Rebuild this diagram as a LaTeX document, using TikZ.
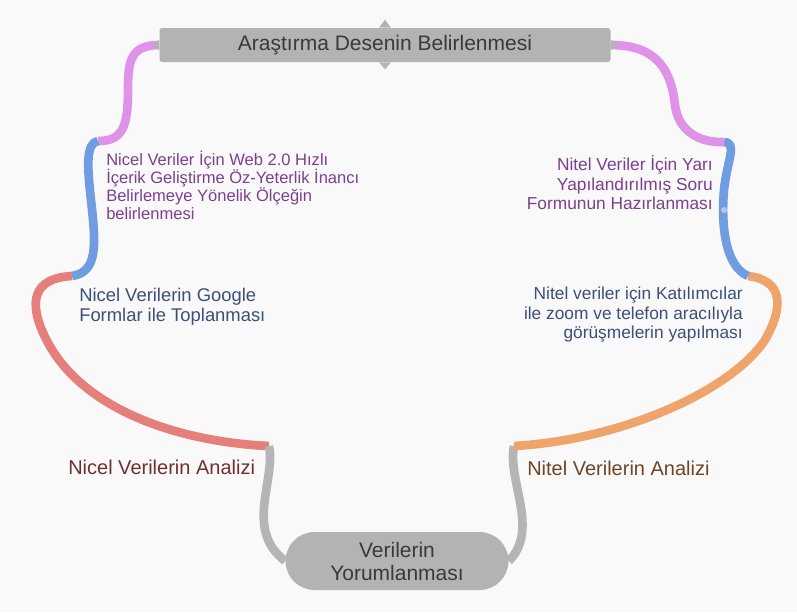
\documentclass[tikz,border=0pt]{standalone}
\usepackage{fontspec}
\setmainfont{Liberation Sans}
\usetikzlibrary{positioning}
\newcommand{\px}{0.75pt}
\definecolor{bgcol}{HTML}{F9F9F9}
\definecolor{boxgray}{HTML}{B3B3B3}
\definecolor{boxtext}{HTML}{3A3A3A}
\definecolor{rpink}{HTML}{DE93E8}
\definecolor{rblue}{HTML}{709CE2}
\definecolor{rred}{HTML}{E57F7B}
\definecolor{rorange}{HTML}{EFA46B}
\definecolor{rgray}{HTML}{B5B5B5}
\definecolor{tpurple}{HTML}{7E3F8F}
\definecolor{tblue}{HTML}{3C4F78}
\definecolor{tred}{HTML}{6E3030}
\definecolor{tbrown}{HTML}{6E4526}

\begin{document}
\begin{tikzpicture}[x=\px, y=-\px,
    box/.style={fill=boxgray, text=boxtext, inner sep=0pt, align=center, font=\fontsize{15.75}{17.25}\selectfont},
    lbl/.style={inner sep=0pt, font=\fontsize{13}{14.6}\selectfont},
    ribbon/.style={line width=6.5pt, line cap=butt}]
    \useasboundingbox (0,0) rectangle (797,612);
    \fill[bgcol] (0,0) rectangle (797,612);

    % Boxes
    \node[box, minimum width=451*\px, minimum height=34*\px, rounded corners=2pt] (desen) at (385,45) {Araştırma Desenin Belirlenmesi};
    \node[box, minimum width=223*\px, minimum height=58*\px, rounded corners=29*\px] (yorum) at (397,561) {Verilerin\\Yorumlanması};

    % Left side
    \node[lbl, anchor=west, align=left, text=tpurple, font=\fontsize{12.4}{13.5}\selectfont] (olcek) at (106,185) {Nicel Veriler İçin Web 2.0 Hızlı\\İçerik Geliştirme Öz-Yeterlik İnancı\\Belirlemeye Yönelik Ölçeğin\\belirlenmesi};
    \node[lbl, anchor=west, align=left, text=tblue, font=\fontsize{13.8}{15}\selectfont] (google) at (79,307) {Nicel Verilerin Google\\Formlar ile Toplanması};
    \node[lbl, anchor=west, text=tred, font=\fontsize{15}{17}\selectfont] (analiz-nicel) at (68,467) {Nicel Verilerin Analizi};

    % Right side
    \node[lbl, anchor=east, align=right, text=tpurple] (form) at (713,183) {Nitel Veriler İçin Yarı\\Yapılandırılmış Soru\\Formunun Hazırlanması};
    \node[lbl, anchor=east, align=right, text=tblue] (zoom) at (743,315) {Nitel veriler için Katılımcılar\\ile zoom ve telefon aracılıyla\\görüşmelerin yapılması};
    \node[lbl, anchor=west, text=tbrown, font=\fontsize{15}{17}\selectfont] (analiz-nitel) at (527,468) {Nitel Verilerin Analizi};

    % Junctions
    \coordinate (j-1) at (98,141);
    \coordinate (j-2) at (72,276);
    \coordinate (j-3) at (269,446);
    \coordinate (j-4) at (514,446);
    \coordinate (j-5) at (748,276);
    \coordinate (j-6) at (724,142);

    % Ribbons
    \draw[ribbon, rpink] (desen.west) .. controls (130,45) and (128,62) .. (128,90) .. controls (128,128) and (122,141) .. (j-1);
    \draw[ribbon, rblue] (j-1) .. controls (86,143) and (87,165) .. (91,200) .. controls (96,245) and (98,272) .. (j-2);
    \draw[ribbon, rred] (j-2) .. controls (33,278) and (28,302) .. (45,337) .. controls (80,410) and (180,442) .. (j-3);
    \draw[ribbon, rgray] (j-3) .. controls (276,480) and (244,530) .. (yorum.west);
    \draw[ribbon, rgray] (j-4) .. controls (507,480) and (540,530) .. (yorum.east);
    \draw[ribbon, rorange] (j-4) .. controls (620,440) and (730,392) .. (765,340) .. controls (785,305) and (782,280) .. (j-5);
    \draw[ribbon, rblue] (j-5) .. controls (725,266) and (721,225) .. (724,190) .. controls (727,160) and (738,143) .. (j-6);
    \draw[ribbon, rpink] (j-6) .. controls (698,143) and (678,130) .. (675,105) .. controls (671,68) and (655,45) .. (desen.east);
    \fill[rblue!55!white] (724,210) circle (3);

    % Box tips
    \fill[boxgray] (desen.north) ++(-6,0) -- ++(6,-8) -- ++(6,8) -- cycle;
    \fill[boxgray] (desen.south) ++(-6,0) -- ++(6,7) -- ++(6,-7) -- cycle;
    \fill[boxgray] (desen.west) ++(0,-5) -- ++(-8,5) -- ++(8,5) -- cycle;
    \fill[boxgray] (desen.east) ++(0,-5) -- ++(8,5) -- ++(-8,5) -- cycle;
\end{tikzpicture}
\end{document}
